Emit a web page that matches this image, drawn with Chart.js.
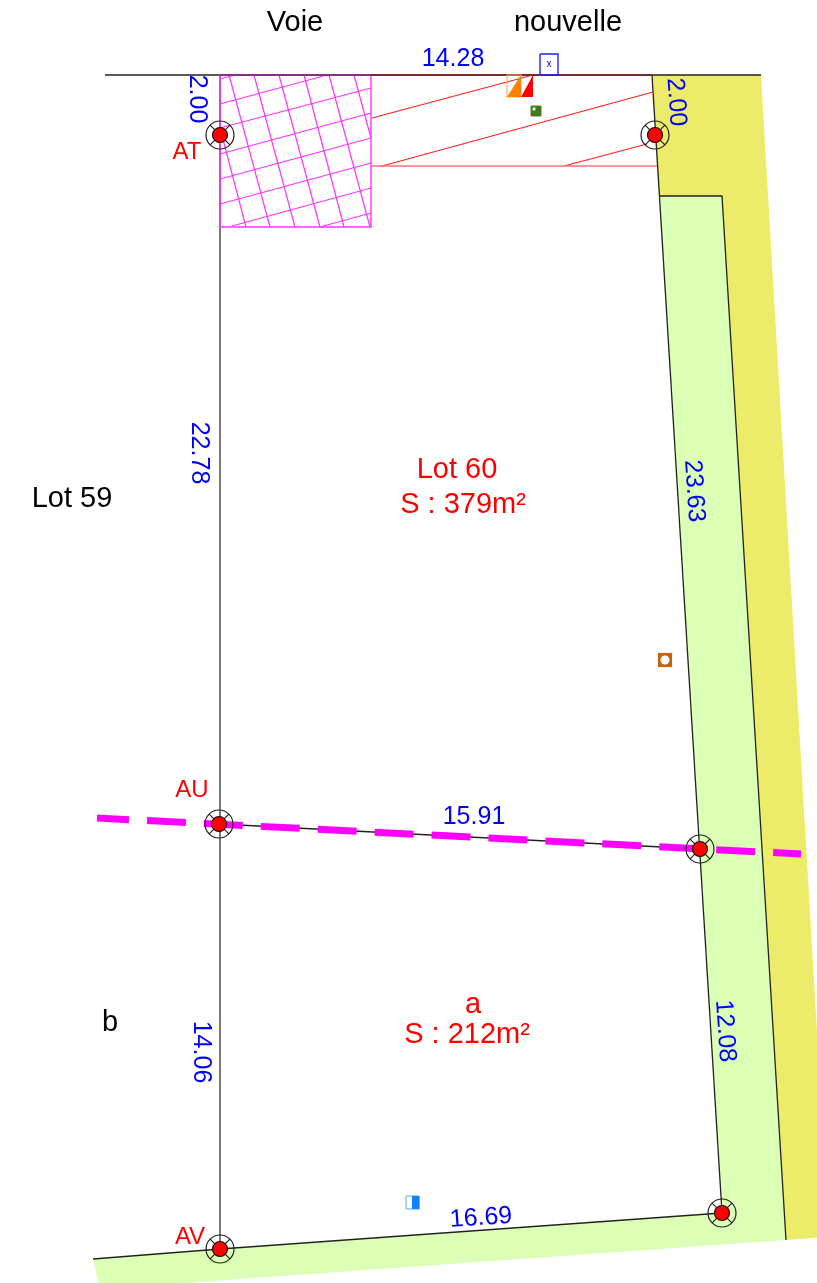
<!DOCTYPE html>
<html>
<head>
<meta charset="utf-8">
<title>Lot 60</title>
<script src="https://cdn.jsdelivr.net/npm/chart.js@4"></script>
<style>
  html, body { margin: 0; padding: 0; background: #fff; }
  #wrap { width: 817px; height: 1283px; }
</style>
</head>
<body>
<div id="wrap"><canvas id="plan" width="817" height="1283"></canvas></div>
<script>
// Parcel outlines ([x, y] in plan units)
const yellowStrip = [[652, 75], [761, 75], [829, 1237], [786, 1240], [722, 196], [659, 196]];
const greenStrip = [[659, 196], [722, 196], [786, 1240], [100, 1289], [93, 1259], [220, 1249], [722, 1213]];
const topLine = [[105, 75], [761, 75]];
const topLineHatch = [[220, 75], [371, 75]];
const topLineRed = [[371, 75], [652, 75]];
const leftLine = [[220, 75], [220, 1249]];
const rightLine = [[652, 75], [722, 1213]];
const stripLine = [[659, 196], [722, 196], [786, 1240]];
const bottomLine = [[93, 1259], [220, 1249], [722, 1213]];
const dividerLine = [[219, 824], [700, 849]];
const dividerDash = [[97, 818], [801, 854]];

// Hatching
const hatchBox = [[220, 75], [371, 75], [371, 227], [220, 227], [220, 75]];
const hatchShallow = [
  [220, 79, 235, 75], [220, 104, 327, 75], [220, 128, 371, 88], [220, 154, 371, 113],
  [220, 179, 371, 138], [220, 204, 371, 163], [232, 226, 371, 188], [320, 227, 371, 213]
];
const hatchSteep = [
  [220, 128, 246, 227], [229, 75, 270, 227], [254, 75, 295, 227], [279, 75, 320, 227],
  [304, 75, 344, 227], [329, 75, 370, 227], [354, 75, 371, 138]
];
const easementLines = [[372, 118, 533, 75], [382, 166, 653, 92], [564, 166, 647, 144]];
const easementBase = [[371, 166], [657, 166]];

// Boundary markers
const markerPoints = [[220, 135], [655, 135], [219, 824], [700, 849], [220, 1249], [722, 1213]];

// Small symbols
const orangeBox = [[507, 75], [521, 75], [521, 97], [507, 97], [507, 75]];
const orangeTri = [[507, 97], [521, 75], [521, 97]];
const redTri = [[521, 97], [533, 75], [533, 97]];
const blueBox = [[540, 54], [558, 54], [558, 75], [540, 75], [540, 54]];
const greenSymbol = [[536, 111]];
const greenSymbolDot = [[534, 109]];
const brownSymbol = [[665, 660]];
const brownSymbolDot = [[665, 660]];
const blueOutline = [[406, 1196], [419, 1196], [419, 1209], [406, 1209], [406, 1196]];
const blueHalf = [[412, 1196], [419, 1196], [419, 1209], [412, 1209]];

// Labels
const blackText = ['Voie', 'nouvelle', 'Lot 59', 'b'];
const blackTextPos = [[295, 23], [568, 23], [72, 499], [110, 1023]];
const redText = ['AT', 'AU', 'AV', 'Lot 60', 'S : 379m²', 'a', 'S : 212m²'];
const redTextPos = [[187, 152], [192, 790], [190, 1237], [457, 470], [463, 505], [473, 1005], [467, 1035]];
const redTextSize = [24, 24, 24, 29, 29, 29, 29];
const lengthText = ['14.28', '2.00', '2.00', '22.78', '23.63', '15.91', '14.06', '12.08', '16.69'];
const lengthTextPos = [[453, 59], [197, 99], [676, 102], [199, 453], [694, 491], [474, 817], [201, 1052], [725, 1031], [481, 1218]];
const lengthTextAngle = [0, 90, 86, 90, 86, 0, 90, 86, -4];

const toXY = pts => pts.map(p => ({ x: p[0], y: p[1] }));

function segs(list) {
  const out = [];
  list.forEach(s => {
    out.push({ x: s[0], y: s[1] }, { x: s[2], y: s[3] }, { x: NaN, y: NaN });
  });
  return out;
}

function line(data, color, width, extra) {
  return Object.assign({
    data, showLine: true, borderColor: color, borderWidth: width,
    pointRadius: 0, fill: false, tension: 0, spanGaps: false
  }, extra || {});
}

function shape(pts, color) {
  return line(toXY(pts), color, 0, { fill: 'shape', backgroundColor: color, borderColor: 'transparent' });
}

function dots(pts, style, radius, fillCol, strokeCol, width) {
  return {
    data: toXY(pts), showLine: false, pointStyle: style, pointRadius: radius,
    backgroundColor: fillCol, borderColor: strokeCol, borderWidth: width
  };
}

const datasets = [
  shape(yellowStrip, '#ecec6a'),
  shape(greenStrip, '#dbffb4'),
  line(toXY(topLine), '#222222', 1.3),
  line(toXY(leftLine), '#333333', 1.3),
  line(toXY(rightLine), '#222222', 1.3),
  line(toXY(stripLine), '#222222', 1.3),
  line(toXY(bottomLine), '#222222', 1.3),
  line(toXY(dividerLine), '#222222', 1.3),
  line(segs(hatchShallow), '#ff33ff', 1.2),
  line(segs(hatchSteep), '#ff33ff', 1.2),
  line(toXY(hatchBox), '#ff33ff', 1.4),
  line(toXY(topLineHatch), '#6a2a6a', 1.3),
  line(segs(easementLines), '#ff2020', 1.2),
  line(toXY(easementBase), '#ff7070', 1.6),
  line(toXY(topLineRed), '#7a1f1f', 1.3),
  line(toXY(dividerDash), '#ff00ff', 7, { borderDash: [39, 18], borderDashOffset: 7 }),
  line(toXY(orangeBox), '#ffb060', 1.2),
  shape(orangeTri, '#ff8000'),
  shape(redTri, '#ff0000'),
  line(toXY(blueBox), '#2020ff', 1.4),
  dots(greenSymbol, 'rect', 7, '#3f7a1a', '#3f7a1a', 1),
  dots(greenSymbolDot, 'rect', 2, '#ffffff', '#ffffff', 0),
  dots(brownSymbol, 'rect', 10, '#c4640f', '#c4640f', 0),
  dots(brownSymbolDot, 'circle', 4.5, '#ffffff', '#ffffff', 0),
  line(toXY(blueOutline), '#5aaaff', 1),
  shape(blueHalf, '#0a84ff'),
  dots(markerPoints, 'crossRot', 14, 'transparent', '#222222', 1.2),
  dots(markerPoints, 'circle', 14, 'transparent', '#222222', 1.2),
  dots(markerPoints, 'circle', 7.5, '#ff0000', '#111111', 1.2)
];
// chart.js paints high order first, keep the list order above
datasets.forEach((d, i) => { d.order = datasets.length - i; });

const planLabels = {
  id: 'planLabels',
  afterDatasetsDraw(chart) {
    const { ctx, scales: { x, y } } = chart;
    const put = (txt, pos, size, color, angle) => {
      ctx.save();
      ctx.translate(x.getPixelForValue(pos[0]), y.getPixelForValue(pos[1]));
      ctx.rotate((angle || 0) * Math.PI / 180);
      ctx.font = size + 'px "Liberation Sans"';
      ctx.fillStyle = color;
      ctx.textAlign = 'center';
      ctx.textBaseline = 'middle';
      ctx.fillText(txt, 0, 0);
      ctx.restore();
    };
    blackText.forEach((t, i) => put(t, blackTextPos[i], 29, '#000000', 0));
    redText.forEach((t, i) => put(t, redTextPos[i], redTextSize[i], '#ff0000', 0));
    lengthText.forEach((t, i) => put(t, lengthTextPos[i], 25, '#0000ff', lengthTextAngle[i]));
    put('x', [549, 64], 10, '#0000ff', 0);
  }
};

new Chart(document.getElementById('plan').getContext('2d'), {
  type: 'scatter',
  data: { datasets },
  plugins: [planLabels],
  options: {
    responsive: false,
    animation: false,
    layout: { padding: 0, autoPadding: false },
    scales: {
      x: { type: 'linear', min: 0, max: 817, display: false },
      y: { type: 'linear', min: 0, max: 1283, reverse: true, display: false }
    },
    plugins: { legend: { display: false }, tooltip: { enabled: false } }
  }
});
</script>
</body>
</html>
